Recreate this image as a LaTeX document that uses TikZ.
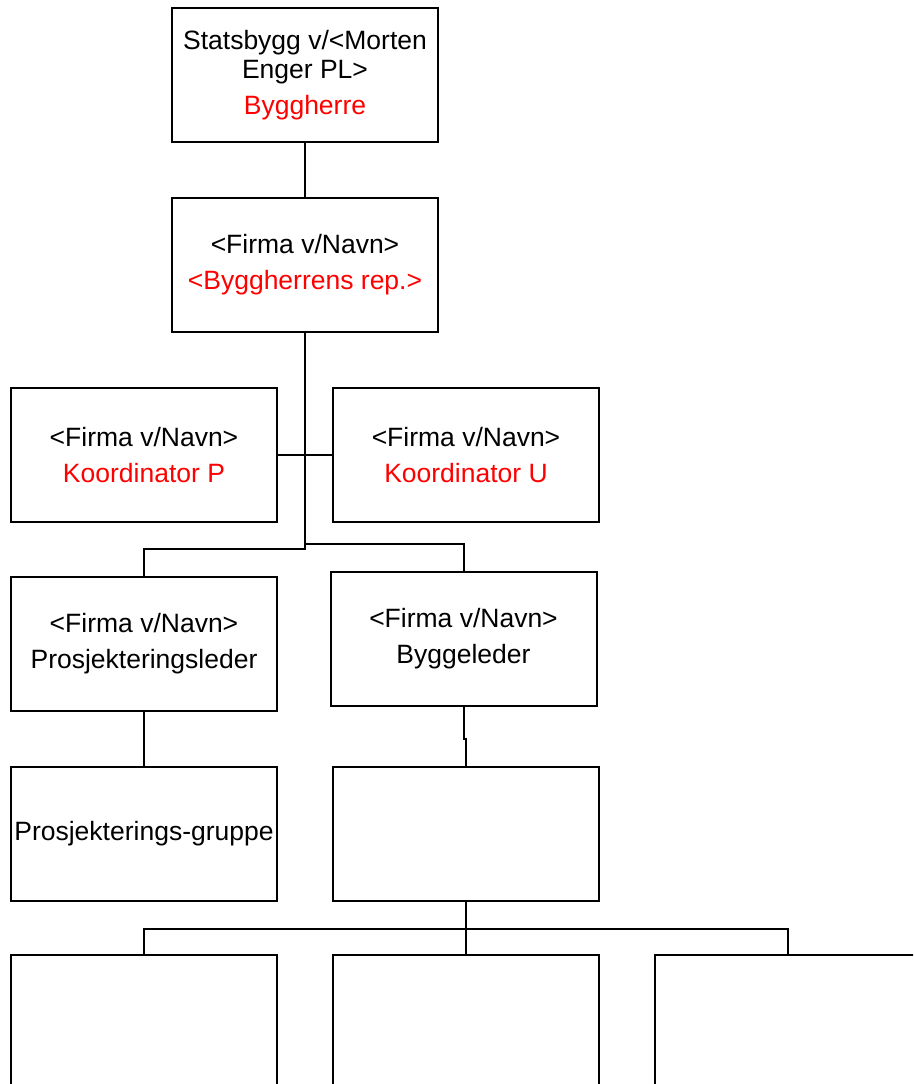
\documentclass[tikz,border=0pt]{standalone}
\usepackage{fontspec}
\setmainfont{Liberation Sans}
\begin{document}
\begin{tikzpicture}[x=1pt,y=-1pt,
    box/.style={draw,line width=2pt,minimum width=266pt,minimum height=134pt,
                inner sep=0pt,align=center,font=\fontsize{26.5pt}{36pt}\selectfont},
    link/.style={line width=2pt}]
    \useasboundingbox (0,0) rectangle (913,1084);
    \clip (0,0) rectangle (913,1084);
    \node[box] (sb)  at (305, 75) {Statsbygg v/<Morten\\[-7pt]Enger PL>\\\textcolor{red}{Byggherre}};
    \node[box] (rep) at (305,265) {<Firma v/Navn>\\\textcolor{red}{<Byggherrens rep.>}};
    \node[box] (kp)  at (144,455) {<Firma v/Navn>\\\textcolor{red}{Koordinator P}};
    \node[box] (ku)  at (466,455) {<Firma v/Navn>\\\textcolor{red}{Koordinator U}};
    \node[box] (pl)  at (144,644) {<Firma v/Navn>\\Prosjekteringsleder};
    \node[box] (bl)  at (463.5,639) {<Firma v/Navn>\\Byggeleder};
    \node[box] (pg)  at (144,834) {Prosjekterings-gruppe};
    \node[box] (tom) at (466,834) {};
    \node[box] (n1)  at (144,1022) {};
    \node[box] (n2)  at (466,1022) {};
    \node[box] (n3)  at (788,1022) {};
    \draw[link] (sb.south) -- (rep.north);
    \draw[link] (rep.south) |- (kp.east);
    \draw[link] (rep.south) |- (ku.west);
    \draw[link] (rep.south) -- ++(0,216) -| (pl.north);
    \draw[link] (rep.south) -- ++(0,211) -| (bl.north);
    \draw[link] (pl.south) -- (pg.north);
    \draw[link] (bl.south) -- ++(0,32) -| (tom.north);
    \draw[link] (tom.south) -- ++(0,27) -| (n1.north);
    \draw[link] (tom.south) -- (n2.north);
    \draw[link] (tom.south) -- ++(0,27) -| (n3.north);
\end{tikzpicture}
\end{document}
